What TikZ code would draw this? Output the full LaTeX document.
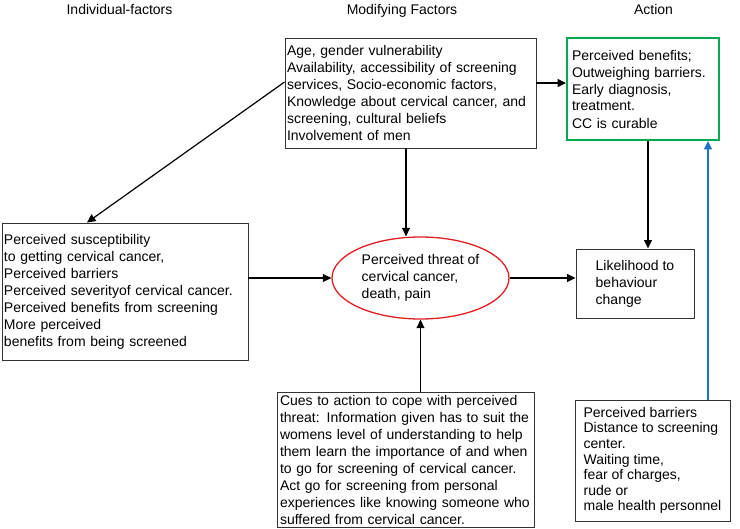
\documentclass[tikz,border=0pt]{standalone}
\usepackage{fontspec}
\setmainfont{Liberation Sans}
\usetikzlibrary{arrows.meta,shapes.geometric,calc}
\definecolor{ggreen}{RGB}{0,170,80}
\definecolor{rred}{RGB}{225,30,35}
\definecolor{bblue}{RGB}{30,115,200}
\begin{document}
\begin{tikzpicture}[x=1pt,y=-1pt,
  txt/.style={font=\fontsize{14}{17}\selectfont},
  box/.style={draw=black!80, line width=0.9pt, rectangle, align=left, txt, inner ysep=0pt},
  arr/.style={line width=1.2pt, -{Triangle[length=8.5pt,width=8pt]}},
  hdr/.style={txt, anchor=base}]
\fill[white] (0,0) rectangle (740,529);
\useasboundingbox (0,0) rectangle (740,529);

\node[hdr] (h1) at (119.5,14.5) {Individual-factors};
\node[hdr] (h2) at (402,14.5) {Modifying Factors};
\node[hdr] (h3) at (653.5,14.5) {Action};

\node[box, text width=247pt, inner xsep=2pt, minimum height=110pt] (tb) at (410.5,93)
  {Age, gender vulnerability\\ Availability, accessibility of screening\\ services, Socio-economic factors,\\ Knowledge about cervical cancer, and\\ screening, cultural beliefs\\ Involvement of men};

\node[box, draw=ggreen, line width=2pt, text width=142pt, inner xsep=5pt, minimum height=102pt] (gb) at (643,89)
  {Perceived benefits;\\ Outweighing barriers.\\ Early diagnosis,\\ treatment.\\ CC is curable};

\node[box, text width=242pt, inner xsep=2pt, minimum height=137pt] (lb) at (125,291.5)
  {Perceived susceptibility\\ to getting cervical cancer,\\ Perceived barriers\\ Perceived severityof cervical cancer.\\ Perceived benefits from screening\\ More perceived\\ benefits from being screened};

\node[ellipse, draw=rred, line width=1.3pt, minimum width=177pt, minimum height=82pt, inner sep=0pt, align=left, txt] (el) at (420.5,278)
  {Perceived threat of\\ cervical cancer,\\ death, pain};

\node[box, minimum width=118pt, minimum height=69pt] (lk) at (635,283.5)
  {Likelihood to\\ behaviour\\ change};

\node[box, text width=251pt, inner xsep=3pt, minimum height=135pt] (bb) at (405.5,459.5)
  {Cues to action to cope with perceived\\ threat: Information given has to suit the\\ womens level of understanding to help\\ them learn the importance of and when\\ to go for screening of cervical cancer.\\ Act go for screening from personal\\ experiences like knowing someone who\\ suffered from cervical cancer.};

\node[box, font=\fontsize{14}{15.6}\selectfont, minimum width=155pt, minimum height=121pt] (br) at (652.5,460.5)
  {Perceived barriers\\ Distance to screening\\ center.\\ Waiting time,\\ fear of charges,\\ rude or\\ male health personnel};

\draw[arr] ([yshift=11pt]tb.west) -- ([xshift=-38pt]lb.north);
\draw[arr] ([yshift=10pt]tb.east) -- ([yshift=10pt]tb.east -| gb.west);
\draw[arr] ([xshift=-4.5pt]tb.south) -- ([xshift=-4.5pt]tb.south |- el.north);
\draw[arr] (lb.east |- el.west) -- (el.west);
\draw[arr] (el.east) -- (el.east -| lk.west);
\draw[arr] (el.south |- bb.north) -- (el.south);
\draw[arr] ([xshift=5pt]gb.south) -- ([xshift=5pt]gb.south |- lk.north);
\draw[arr, color=bblue] ([xshift=55.5pt]br.north) -- ([xshift=55.5pt]br.north |- gb.south);
\end{tikzpicture}
\end{document}
